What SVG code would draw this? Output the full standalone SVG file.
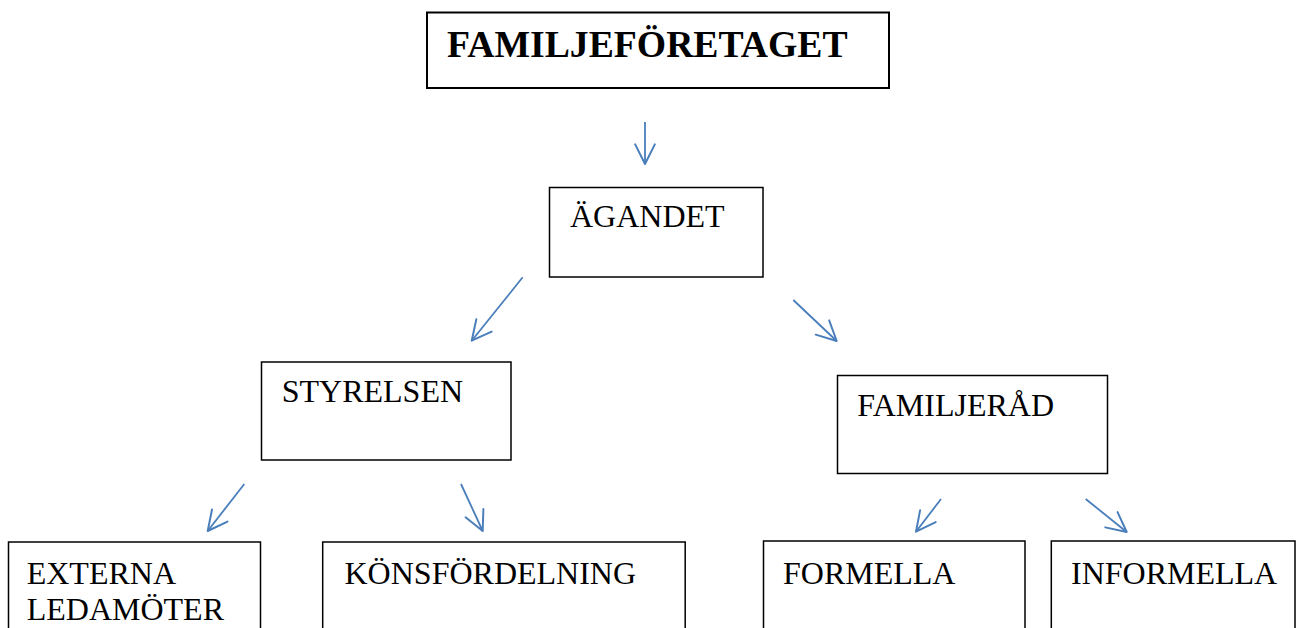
<svg xmlns="http://www.w3.org/2000/svg" width="1297" height="628" viewBox="0 0 1297 628">
  <style>
    .box { fill: #ffffff; stroke: #000000; stroke-width: 1.5; }
    .title-box { fill: #ffffff; stroke: #000000; stroke-width: 2; }
    .lbl { font-family: "Liberation Serif", "Times New Roman", serif; font-size: 32px; fill: #000000; }
    .title { font-family: "Liberation Serif", "Times New Roman", serif; font-size: 37.7px; font-weight: bold; fill: #000000; }
    .conn { stroke: #4a7ebb; stroke-width: 1.8; fill: none; }
  </style>
  <defs>
    <marker id="arrow" markerUnits="userSpaceOnUse" markerWidth="24" markerHeight="24" viewBox="-20 -11 22 22" refX="0" refY="0" orient="auto">
      <path d="M -18 -9 L 0 0 L -18 9" fill="none" stroke="#4a7ebb" stroke-width="1.8" stroke-linecap="round" stroke-linejoin="round"/>
    </marker>
  </defs>
  <rect width="1297" height="628" fill="#ffffff"/>

  <g id="connectors">
    <line class="conn" x1="645" y1="122" x2="645" y2="164" marker-end="url(#arrow)"/>
    <line class="conn" x1="522.7" y1="277.3" x2="471.7" y2="340.7" marker-end="url(#arrow)"/>
    <line class="conn" x1="793.3" y1="300" x2="836.7" y2="341" marker-end="url(#arrow)"/>
    <line class="conn" x1="244.3" y1="484" x2="207.7" y2="531" marker-end="url(#arrow)"/>
    <line class="conn" x1="461" y1="484" x2="482.7" y2="531" marker-end="url(#arrow)"/>
    <line class="conn" x1="941" y1="499" x2="916" y2="531.7" marker-end="url(#arrow)"/>
    <line class="conn" x1="1085.7" y1="499" x2="1126.7" y2="532" marker-end="url(#arrow)"/>
  </g>

  <g id="node-familjeforetaget">
    <rect class="title-box" x="427" y="12.5" width="462" height="75.5"/>
    <text class="title" x="447" y="57">FAMILJEFÖRETAGET</text>
  </g>

  <g id="node-agandet">
    <rect class="box" x="549.5" y="187.5" width="213.5" height="89.5"/>
    <text class="lbl" x="570" y="227">ÄGANDET</text>
  </g>

  <g id="node-styrelsen">
    <rect class="box" x="261.5" y="362" width="249.5" height="98"/>
    <text class="lbl" x="281.7" y="402">STYRELSEN</text>
  </g>

  <g id="node-familjerad">
    <rect class="box" x="837.5" y="375.5" width="270" height="98"/>
    <text class="lbl" x="857.3" y="416">FAMILJERÅD</text>
  </g>

  <g id="node-externa">
    <rect class="box" x="8.5" y="542" width="252" height="100"/>
    <text class="lbl" x="26.7" y="583.5">EXTERNA</text>
    <text class="lbl" x="26.7" y="619.5">LEDAMÖTER</text>
  </g>

  <g id="node-konsfordelning">
    <rect class="box" x="322.7" y="542" width="362.5" height="100"/>
    <text class="lbl" x="344.5" y="583.5">KÖNSFÖRDELNING</text>
  </g>

  <g id="node-formella">
    <rect class="box" x="763.5" y="541" width="261.5" height="100"/>
    <text class="lbl" x="783" y="583.5">FORMELLA</text>
  </g>

  <g id="node-informella">
    <rect class="box" x="1051.3" y="541" width="243.7" height="100"/>
    <text class="lbl" x="1071" y="583.5">INFORMELLA</text>
  </g>
</svg>
